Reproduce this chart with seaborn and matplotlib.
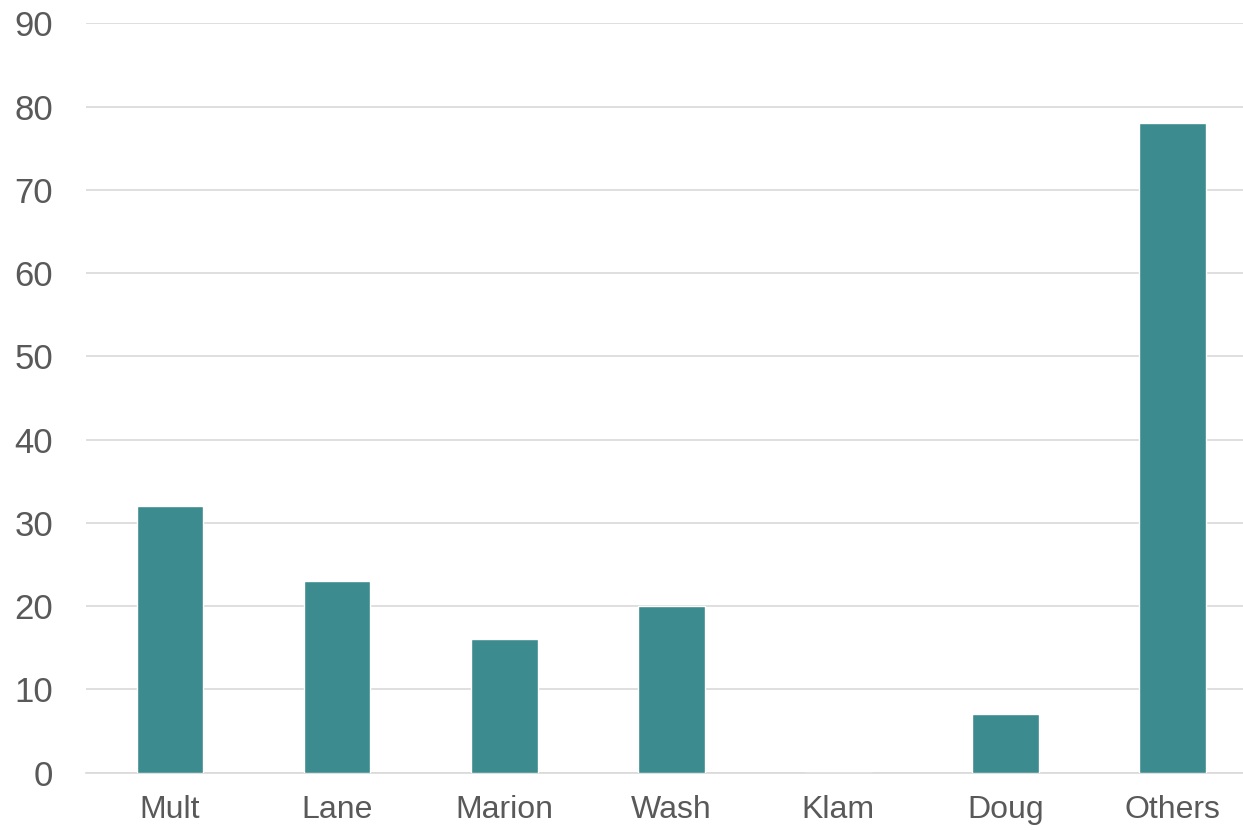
import pandas as pd
import seaborn as sns
import matplotlib.pyplot as plt

# Chart data
counties = ["Mult", "Lane", "Marion", "Wash", "Klam", "Doug", "Others"]
counts = [32, 23, 16, 20, 0, 7, 78]
y_ticks = [0, 10, 20, 30, 40, 50, 60, 70, 80, 90]

data = pd.DataFrame({"County": counties, "Count": counts})

sns.set_style("white")
plt.rcParams["font.family"] = ["Liberation Sans", "DejaVu Sans"]

fig = plt.figure(figsize=(12.43, 8.30), dpi=100)
# the plot area runs slightly past the right edge of the picture
ax = fig.add_axes([0.0695, 0.069, 0.941, 0.903])

sns.barplot(data=data, x="County", y="Count", color="#3B8B8F", width=0.4,
            saturation=1, ax=ax, zorder=3)

ax.set_ylim(0, 90)
ax.set_yticks(y_ticks)
ax.set_xlim(-0.5, len(counties) - 0.5)
ax.yaxis.grid(True, color="#D9D9D9", linewidth=1.2, zorder=0)
ax.set_axisbelow(True)

for side in ["top", "right", "left"]:
    ax.spines[side].set_visible(False)
ax.spines["bottom"].set_color("#D9D9D9")
ax.spines["bottom"].set_linewidth(1.2)

ax.tick_params(axis="y", labelsize=25, labelcolor="#595959", length=0, pad=24)
ax.tick_params(axis="x", labelsize=23, labelcolor="#595959", length=0, pad=16)
ax.set_xlabel("")
ax.set_ylabel("")

fig.savefig("out.png", dpi=100)
